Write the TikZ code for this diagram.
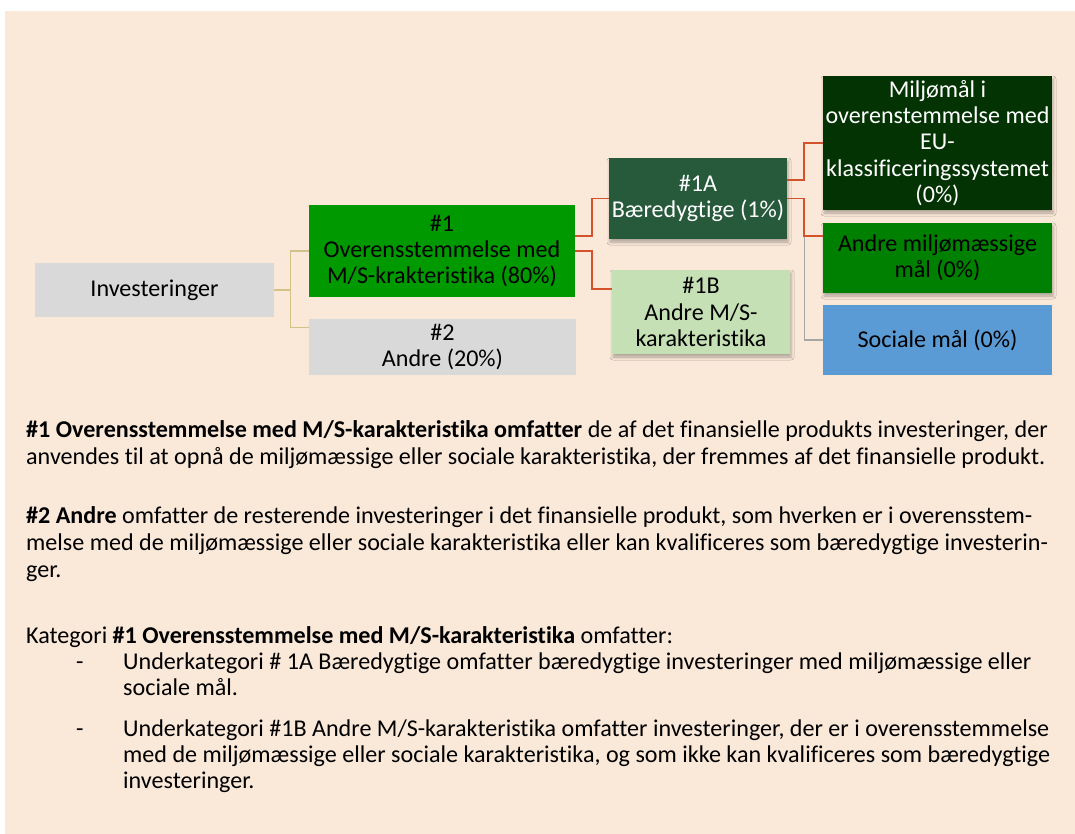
\documentclass[tikz,border=0pt]{standalone}
\usepackage{fontspec}
\setmainfont{Carlito}[Ligatures=NoCommon]
\usetikzlibrary{shadows.blur,calc}
\definecolor{bgc}{HTML}{FAE8D8}
\definecolor{greyfill}{HTML}{D9D9D9}
\definecolor{green1}{HTML}{009900}
\definecolor{green1A}{HTML}{265A3B}
\definecolor{green1B}{HTML}{C5E0B4}
\definecolor{greenM}{HTML}{033303}
\definecolor{greenAM}{HTML}{008000}
\definecolor{blueS}{HTML}{5B9BD5}
\definecolor{redline}{HTML}{D4522C}
\definecolor{oliveline}{HTML}{D2C288}
\definecolor{greyline}{HTML}{A6A6A6}
\newcommand{\diagfont}{\fontsize{24.1}{26.3}\selectfont}
\newcommand{\bodyfont}{\fontsize{24.1}{26.5}\selectfont}
\tikzset{
  boxnode/.style={draw=none, minimum width=#1, inner sep=0pt, align=center, font=\diagfont},
  shad/.style={blur shadow={shadow xshift=1pt, shadow yshift=-3pt, shadow blur radius=3pt, shadow opacity=30}},
  bodyline/.style={anchor=base west, inner sep=0pt, font=\bodyfont},
  redconn/.style={draw=redline, line width=1.6pt},
  oliveconn/.style={draw=oliveline, line width=1.3pt},
  greyconn/.style={draw=greyline, line width=1.2pt}
}
\begin{document}
\begin{tikzpicture}[x=1pt,y=-1pt]
\useasboundingbox (0,0) rectangle (1075,834);
\fill[white] (0,0) rectangle (1075,834);
\fill[bgc] (5,11) rectangle (1075,834);

% boxes
\node[boxnode=239pt, minimum height=54pt, fill=greyfill] (inv) at (154.5,290) {Investeringer};
\node[boxnode=266pt, minimum height=92pt, fill=green1] (n1) at (442,251) {\#1\\Overensstemmelse med\\M/S-krakteristika (80\%)};
\node[boxnode=267pt, minimum height=56pt, fill=greyfill] (n2) at (442.5,347) {\#2\\Andre (20\%)};
\node[boxnode=178pt, minimum height=81pt, fill=green1A, text=white, shad] (n1A) at (698,198.5) {\#1A\\Bæredygtige (1\%)};
\node[boxnode=178pt, minimum height=84pt, fill=green1B, shad] (n1B) at (701,312) {\#1B\\Andre M/S-\\karakteristika};
\node[boxnode=229pt, minimum height=134pt, fill=greenM, text=white, shad] (nM) at (937.5,143) {Miljømål i\\overenstemmelse med\\EU-\\klassificeringssystemet\\(0\%)};
\node[boxnode=229pt, minimum height=70pt, fill=greenAM, shad] (nAM) at (937.5,258) {Andre miljømæssige\\mål (0\%)};
\node[boxnode=229pt, minimum height=70pt, fill=blueS] (nS) at (937.5,340) {Sociale mål (0\%)};

% connectors from Investeringer
\draw[oliveconn] (n1.west) -- ++(-18,0) coordinate (j1) |- ($(n2.north west)+(0,9)$);
\draw[draw=oliveline, line width=2.6pt] (inv.east) -- (inv.east -| j1);

% connectors from #1
\draw[redconn] ($(n1.north east)+(0,31)$) -- ++(17,0) |- (n1A.west);
\draw[redconn] (n1.east) -- ++(17,0) |- ($(n1B.north west)+(0,19)$);

% connectors from #1A
\draw[greyconn] (n1A.east) -- ++(17,0) |- (nS.west);
\draw[redconn] ($(n1A.north east)+(0,22)$) -- ++(17,0) |- (nM.west);
\draw[redconn] (n1A.east) -- ++(17,0) |- ($(nAM.north west)+(0,13)$);

% body text
\node[bodyline] (t1) at (26,437) {\textbf{\#1 Overensstemmelse med M/S-karakteristika omfatter} de af det finansielle produkts investeringer, der};
\node[bodyline] (t2) at (26,464) {anvendes til at opnå de miljømæssige eller sociale karakteristika, der fremmes af det finansielle produkt.};
\node[bodyline] (t3) at (26,523) {\textbf{\#2 Andre} omfatter de resterende investeringer i det finansielle produkt, som hverken er i overensstem-};
\node[bodyline] (t4) at (26,550) {melse med de miljømæssige eller sociale karakteristika eller kan kvalificeres som bæredygtige investerin-};
\node[bodyline] (t5) at (26,577) {ger.};
\node[bodyline] (t6) at (26,643) {Kategori \textbf{\#1 Overensstemmelse med M/S-karakteristika} omfatter:};
\node[bodyline] (d1) at (76,669) {-};
\node[bodyline] (t7) at (123,669) {Underkategori \# 1A Bæredygtige omfatter bæredygtige investeringer med miljømæssige eller};
\node[bodyline] (t8) at (123,695) {sociale mål.};
\node[bodyline] (d2) at (76,736) {-};
\node[bodyline] (t9) at (123,736) {Underkategori \#1B Andre M/S-karakteristika omfatter investeringer, der er i overensstemmelse};
\node[bodyline] (t10) at (123,762) {med de miljømæssige eller sociale karakteristika, og som ikke kan kvalificeres som bæredygtige};
\node[bodyline] (t11) at (123,788) {investeringer.};
\end{tikzpicture}
\end{document}
